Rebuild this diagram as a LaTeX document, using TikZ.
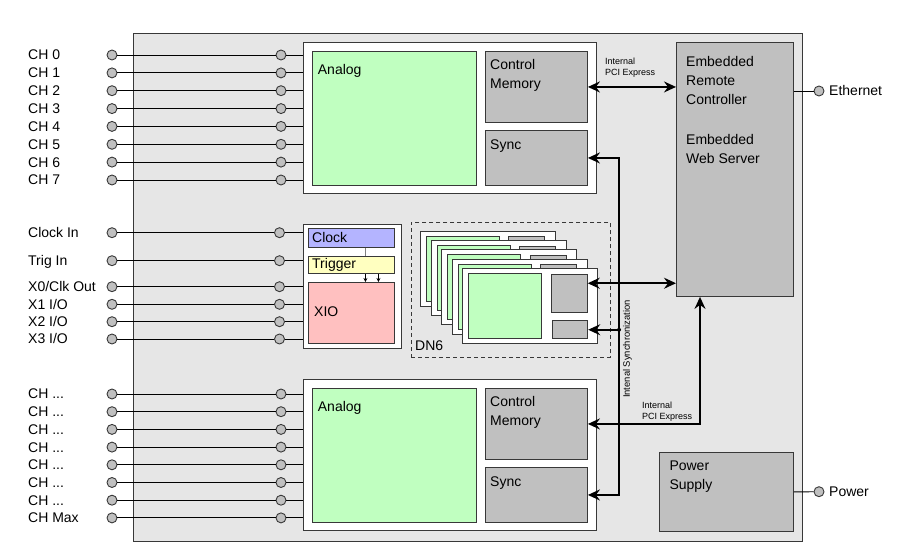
\documentclass[tikz,border=0pt]{standalone}
\usepackage{fontspec}
\setmainfont{Liberation Sans}
\usetikzlibrary{arrows.meta}

\definecolor{chassisgray}{RGB}{230,230,230}
\definecolor{boxgray}{RGB}{192,192,192}
\definecolor{analoggreen}{RGB}{192,255,192}
\definecolor{clockblue}{RGB}{180,180,255}
\definecolor{trigyellow}{RGB}{255,255,192}
\definecolor{xiopink}{RGB}{255,192,192}
\definecolor{edge}{RGB}{56,56,56}
\newcommand{\chmore}{CH ...}

\begin{document}
\begin{tikzpicture}[x=1pt, y=-1pt,
            box/.style={rectangle, draw=edge, anchor=north west, inner sep=0pt, line width=0.9pt},
            chassis box/.style={box, fill=chassisgray, line width=1.2pt},
            board box/.style={box, fill=white, line width=1.1pt},
            analog box/.style={box, fill=analoggreen},
            gray box/.style={box, fill=boxgray},
            pin/.style={circle, draw=edge, fill=boxgray, inner sep=0pt, minimum size=10pt, line width=0.9pt},
            dot/.style={circle, fill=black, inner sep=0pt, minimum size=4pt},
            txt/.style={anchor=north west, align=left, inner sep=0pt},
            chlabel/.style={anchor=base west, inner sep=0pt},
            small/.style={txt, font=\fontsize{9}{11.3}\selectfont},
            bus/.style={line width=1.6pt, {Stealth[length=12pt,width=11pt,inset=4pt]}-{Stealth[length=12pt,width=11pt,inset=4pt]}},
            bus end/.style={line width=1.6pt, -{Stealth[length=12pt,width=11pt,inset=4pt]}},
            tick/.style={line width=0.7pt, -{Stealth[length=4pt,width=4pt]}},
            wire/.style={line width=0.9pt},
            every node/.style={font=\fontsize{14}{19}\selectfont}
    ]
        \useasboundingbox (0,0) rectangle (900,553);

        % Chassis
        \node[chassis box, minimum width=669, minimum height=508] (chassis) at (133,33) {};

        % Upper analog board
        \node[board box, minimum width=293, minimum height=151] (top_board) at (303,42) {};
        \node[analog box, minimum width=164, minimum height=134] (analog_top) at (312,51) {};
        \node[gray box, minimum width=102, minimum height=71] (cm_top) at (485,51) {};
        \node[gray box, minimum width=102, minimum height=55] (sync_top) at (485,130) {};

        % Lower analog board
        \node[board box, minimum width=293, minimum height=151] (bot_board) at (303,379) {};
        \node[analog box, minimum width=164, minimum height=134] (analog_bot) at (312,388) {};
        \node[gray box, minimum width=102, minimum height=71] (cm_bot) at (485,388) {};
        \node[gray box, minimum width=102, minimum height=55] (sync_bot) at (485,467) {};

        % Clock / Trigger / XIO
        \node[board box, minimum width=98, minimum height=124] (clk_board) at (303,224) {};
        \node[box, fill=clockblue, minimum width=86, minimum height=19] (clock) at (308,228) {};
        \node[box, fill=trigyellow, minimum width=86, minimum height=17] (trigger) at (308,256) {};
        \node[box, fill=xiopink, minimum width=86, minimum height=61] (xio) at (308,282) {};

        % DN6 stack
        \node[box, dashed, dash pattern=on 4pt off 3pt, minimum width=199, minimum height=135] (dn6) at (411,222) {};
        \foreach \k in {0,...,4} {
            \node[board box, line width=0.9pt, minimum width=135, minimum height=75] (card\k) at (420+10.6*\k,230.7+9.4*\k) {};
            \node[analog box, minimum width=73, minimum height=65] (dana\k) at (426+10.6*\k,235.7+9.4*\k) {};
            \node[gray box, minimum width=36, minimum height=38] (dmem\k) at (508.4+10.6*\k,236.2+9.4*\k) {};
            \node[gray box, minimum width=35, minimum height=18] (dsync\k) at (509.9+10.6*\k,282.7+9.4*\k) {};
        }

        % Controller and power
        \node[gray box, minimum width=117, minimum height=254] (erc) at (676,42) {};
        \node[gray box, minimum width=134, minimum height=79] (ps) at (659,452) {};

        % Channels
        \foreach \y/\t [count=\i] in {55/CH 0, 72.9/CH 1, 90.7/CH 2, 108.6/CH 3, 126.4/CH 4, 144.3/CH 5, 162.1/CH 6, 180/CH 7} {
            \node[chlabel] (lbl_a\i) at (28,\y+5) {\t};
            \node[pin] (lpin_a\i) at (112,\y) {};
            \node[pin] (rpin_a\i) at (281,\y) {};
            \draw[wire] (lpin_a\i) -- (rpin_a\i) -- (rpin_a\i -| top_board.west);
        }
        \foreach \y/\t [count=\i] in {232.7/Clock In, 260.7/Trig In, 286.7/{X0/Clk Out}, 304.3/{X1 I/O}, 321.7/{X2 I/O}, 339/{X3 I/O}} {
            \node[chlabel] (lbl_c\i) at (28,\y+5) {\t};
            \node[pin] (lpin_c\i) at (112,\y) {};
            \node[pin] (rpin_c\i) at (279.5,\y) {};
            \draw[wire] (lpin_c\i) -- (rpin_c\i) -- (rpin_c\i -| clk_board.west);
        }
        \foreach \y/\t [count=\i] in {394/\chmore, 411.7/\chmore, 429.4/\chmore, 447.1/\chmore, 464.8/\chmore, 482.5/\chmore, 500.2/\chmore, 517.9/CH Max} {
            \node[chlabel] (lbl_b\i) at (28,\y+5) {\t};
            \node[pin] (lpin_b\i) at (112,\y) {};
            \node[pin] (rpin_b\i) at (281,\y) {};
            \draw[wire] (lpin_b\i) -- (rpin_b\i) -- (rpin_b\i -| bot_board.west);
        }

        % Outside connections
        \node[pin] (eth_pin) at (819,91) {};
        \node[pin] (pwr_pin) at (819,491.7) {};
        \draw[wire] (eth_pin) -- (eth_pin -| erc.east);
        \draw[wire] (pwr_pin) -- (ps.east);

        % Clock to trigger to XIO
        \draw[gray, line width=0.8pt] ([xshift=14pt]clock.south) -- ([xshift=14pt]trigger.north);
        \draw[tick] ([xshift=14pt]trigger.south) -- ([xshift=14pt]xio.north);
        \draw[tick] ([xshift=27pt]trigger.south) -- ([xshift=27pt]xio.north);

        % PCI Express
        \coordinate (pci_bus) at (700,0);
        \draw[bus] (cm_top.east) -- (cm_top.east -| erc.west);
        \draw[bus] ([yshift=10pt]dmem4.east) -- ([yshift=10pt]dmem4.east -| erc.west);
        \draw[bus] (cm_bot.east) -- (cm_bot.east -| pci_bus) -- (pci_bus |- erc.south);

        % Internal synchronization
        \coordinate (sync_bus) at (619,0);
        \draw[bus] (sync_top.east) -- (sync_top.east -| sync_bus) -- (sync_bot.east -| sync_bus) -- (sync_bot.east);
        \node[dot] (sync_join) at (dsync4.east -| sync_bus) {};
        \draw[bus end] (sync_join.center) -- (dsync4.east);

        % Texts
        \node[txt] (analog_top_txt) at (317.7,64.2) {Analog};
        \node[txt] (cm_top_txt) at (490,59.2) {Control\\Memory};
        \node[txt] (sync_top_txt) at (490,140) {Sync};
        \node[txt] (analog_bot_txt) at (317.7,401.2) {Analog};
        \node[txt] (cm_bot_txt) at (490,396.2) {Control\\Memory};
        \node[txt] (sync_bot_txt) at (490,477) {Sync};
        \node[txt] (clock_txt) at (312,232.6) {Clock};
        \node[txt] (trigger_txt) at (312,258.5) {Trigger};
        \node[txt] (xio_txt) at (314,306.6) {XIO};
        \node[txt] (dn6_txt) at (415,341) {DN6};
        \node[txt] (erc_txt) at (686,56.6) {Embedded\\Remote\\Controller\\[20.5pt]Embedded\\Web Server};
        \node[txt] (ps_txt) at (669.3,460.6) {Power\\Supply};
        \node[small] (pci_top_txt) at (605,57.6) {Internal\\PCI Express};
        \node[small] (pci_bot_txt) at (642,401.6) {Internal\\PCI Express};
        \node[font=\fontsize{9.4}{11}\selectfont, rotate=90, inner sep=0pt] (sync_txt) at (627.5,349) {Intenal Synchronization};
        \node[chlabel] (eth_txt) at (829,96) {Ethernet};
        \node[chlabel] (pwr_txt) at (829,496.7) {Power};

    \end{tikzpicture}
\end{document}
